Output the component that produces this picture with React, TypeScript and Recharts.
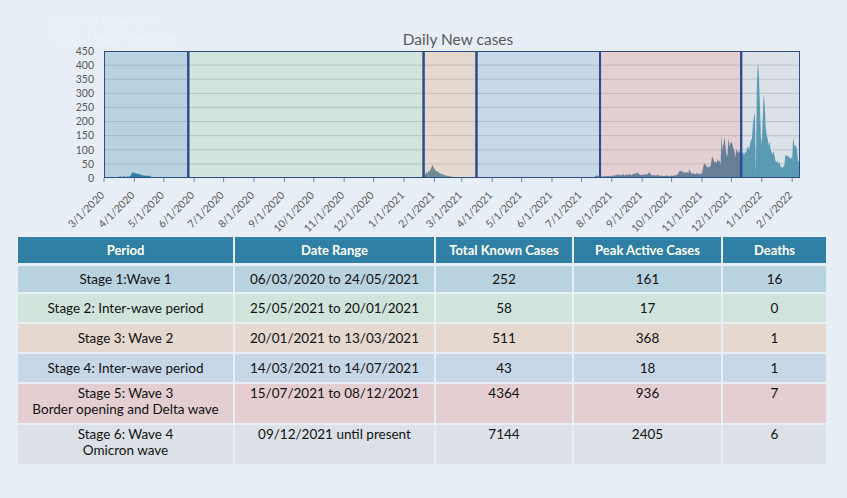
import React from 'react';
import { ComposedChart, Area, XAxis, YAxis, ReferenceArea, ReferenceLine } from 'recharts';

// ---------- chart data ----------
const axisStart = '2020-03-01';
const axisEnd = '2022-02-09';
const monthTicks = [
  '3/1/2020', '4/1/2020', '5/1/2020', '6/1/2020', '7/1/2020', '8/1/2020', '9/1/2020', '10/1/2020',
  '11/1/2020', '12/1/2020', '1/1/2021', '2/1/2021', '3/1/2021', '4/1/2021', '5/1/2021', '6/1/2021',
  '7/1/2021', '8/1/2021', '9/1/2021', '10/1/2021', '11/1/2021', '12/1/2021', '1/1/2022', '2/1/2022',
];
const yTicks = [0, 50, 100, 150, 200, 250, 300, 350, 400, 450];

// stage boxes drawn on the chart (start dates; last box ends at axisEnd)
const stageStarts = ['2020-03-01', '2020-05-26', '2021-01-21', '2021-03-16', '2021-07-20', '2021-12-11'];
const stageFills = ['#b9d2df', '#d2e4dc', '#e5d9cf', '#c8d8e9', '#e4cfd3', '#dbe1e7'];
const stageAreaColors = ['#2d7ea2', '#4a8ca6', '#6f8c94', '#4f8db3', '#687f98', '#5b9ab3'];

// daily new cases (days not covered are 0)
const wave1Start = '2020-03-09';
const wave1Cases = [
  1, 0, 0, 2, 1, 0, 3,
  5, 4, 6, 3, 5, 6, 4, 5,
  3, 6, 4, 5, 8,
  14, 18, 21, 16, 19, 13, 17, 15, 12, 14, 11,
  9, 10, 8, 9, 7, 10, 8, 6, 9,
  4, 3, 4, 2, 3, 2, 3,
  1, 1, 0, 2, 0, 1,
];
const lull1Start = '2020-10-15';
const lull1Cases = [1, 0, 0, 1, 0, 2, 0, 1, 0, 0, 1, 0, 0, 1, 1, 0, 0, 0, 1, 0, 2, 1];
const lull2Start = '2020-12-20';
const lull2Cases = [1, 0, 0, 1, 0, 0, 0, 0, 1];
const wave2Start = '2021-01-21';
const wave2Cases = [
  2, 8, 15, 20, 18, 25, 22, 30, 38, 47, 40, 33, 28, 25, 22, 24, 18, 15, 16, 12,
  14, 10, 9, 11, 7, 6, 8, 5, 4, 5, 3, 2, 3, 1, 2,
];
const wave3Start = '2021-06-20';
const wave3Cases = [
  1, 0, 0, 1, 0, 0, 2, 0, 1, 0, 0, 1, 0, 1, 0, 2, 1, 0, 1,
  1, 2, 1, 3, 2, 4, 6,
  8, 10, 7,
  5, 4,
  5, 6, 4, 7, 6, 5, 8, 6, 7, 5, 9, 6, 8,
  9, 11, 8, 12, 10, 13, 9, 11, 10, 14, 12, 9, 11, 13, 10, 12, 15, 11, 10, 13, 12, 18,
  14, 16, 20, 17, 13, 11, 12, 10, 13, 12, 11, 14, 12, 15, 21, 16,
  12, 10, 9, 11, 8, 10, 9, 12, 8, 9,
  7, 9, 8, 6, 8, 7, 9, 8, 7, 6, 8, 9, 7, 8, 10, 9, 11, 12,
  18, 24, 27, 22, 25,
  20, 18, 22, 19, 21, 17, 30, 24, 19,
  16, 14, 17, 13, 15, 18, 14, 16, 13, 17, 15,
  35, 48, 52, 44,
  40, 36, 42, 38, 45,
  70, 76, 62,
  55, 60, 52, 68, 58, 62, 50,
  151, 98,
  120, 145, 110,
  82, 78,
  143, 110, 125,
  128, 118, 105,
  98, 72, 104,
  95, 88, 100, 85,
];
const wave4Start = '2021-12-11';
const wave4Cases = [
  92, 85, 92, 80, 95, 88,
  105, 112, 98,
  120, 135, 140,
  190, 218,
  230,
  6,
  330, 411, 370,
  270, 150, 120,
  210, 299, 260,
  180, 150, 140, 115, 130,
  100, 92, 85, 95, 80,
  60, 55, 62,
  50, 58,
  42, 38, 36, 40, 45,
  78, 82, 75, 80,
  72, 68, 74, 66,
  145,
  120, 110, 118, 95,
  62, 55,
  40,
];

// ---------- table data ----------
const tableHeaders = ['Period', 'Date Range', 'Total Known Cases', 'Peak Active Cases', 'Deaths'];
const periodLabels = [
  ['Stage 1:Wave 1'],
  ['Stage 2: Inter-wave period'],
  ['Stage 3: Wave 2'],
  ['Stage 4: Inter-wave period'],
  ['Stage 5: Wave 3', 'Border opening and Delta wave'],
  ['Stage 6: Wave 4', 'Omicron wave'],
];
const dateRanges = [
  '06/03/2020 to 24/05/2021',
  '25/05/2021 to 20/01/2021',
  '20/01/2021 to 13/03/2021',
  '14/03/2021 to 14/07/2021',
  '15/07/2021 to 08/12/2021',
  '09/12/2021 until present',
];
const totalKnownCases = [252, 58, 511, 43, 4364, 7144];
const peakActiveCases = [161, 17, 368, 18, 936, 2405];
const deaths = [16, 0, 1, 1, 7, 6];
const rowFills = ['#b9d2df', '#d1e4dc', '#e4d8cf', '#c8d7e8', '#e4ced2', '#dbe1e7'];
const watermarkLines = ['States of Guernsey', 'Public Health Services'];

// ---------- helpers ----------
const DAY_MS = 86400000;
const originUtc = (() => {
  const [y, m, d] = axisStart.split('-').map(Number);
  return Date.UTC(y, m - 1, d);
})();
const isoToDay = (s: string) => {
  const [y, m, d] = s.split('-').map(Number);
  return Math.round((Date.UTC(y, m - 1, d) - originUtc) / DAY_MS);
};
const usToDay = (s: string) => {
  const [m, d, y] = s.split('/').map(Number);
  return Math.round((Date.UTC(y, m - 1, d) - originUtc) / DAY_MS);
};

const lastDay = isoToDay(axisEnd);
const segments: [string, number[]][] = [
  [wave1Start, wave1Cases],
  [lull1Start, lull1Cases],
  [lull2Start, lull2Cases],
  [wave2Start, wave2Cases],
  [wave3Start, wave3Cases],
  [wave4Start, wave4Cases],
];
const daily: number[] = [];
for (let i = 0; i <= lastDay; i++) daily.push(0);
segments.forEach(([start, vals]) => {
  const s0 = isoToDay(start);
  vals.forEach((v, i) => {
    if (s0 + i <= lastDay) daily[s0 + i] = v;
  });
});
const chartData = daily.map((cases, day) => ({ day, cases }));

const tickDays = monthTicks.map(usToDay);
const tickLabelByDay: Record<number, string> = {};
monthTicks.forEach((t, i) => {
  tickLabelByDay[tickDays[i]] = t;
});

const stageStartDays = stageStarts.map(isoToDay);
const stageEndDays = stageStartDays.slice(1).concat([lastDay]);

const FONT = 'Lato, "Open Sans", sans-serif';
const BORDER = '#2e4b8b';

const XTick = (props: any) => {
  const { x, y, payload } = props;
  const ax = x + 1;
  const ay = y + 12;
  return (
    <text
      x={ax}
      y={ay}
      textAnchor="end"
      transform={`rotate(-45 ${ax} ${ay})`}
      fontSize={10.5}
      fill="#595959"
      fontFamily={FONT}
    >
      {tickLabelByDay[payload.value]}
    </text>
  );
};

const colWidths = [215, 199, 136, 147, 103];

export default function App() {
  const stops: React.ReactNode[] = [];
  stageStartDays.forEach((s, i) => {
    const o1 = (s / lastDay) * 100;
    const o2 = (stageEndDays[i] / lastDay) * 100;
    stops.push(<stop key={`a${i}`} offset={`${o1}%`} stopColor={stageAreaColors[i]} />);
    stops.push(<stop key={`b${i}`} offset={`${o2}%`} stopColor={stageAreaColors[i]} />);
  });

  return (
    <div
      style={{
        position: 'absolute',
        left: 0,
        top: 0,
        width: 847,
        height: 498,
        background: '#e8eef5',
        overflow: 'hidden',
        fontFamily: FONT,
      }}
    >
      {/* faint watermark */}
      {watermarkLines.map((t, i) => (
        <div
          key={t}
          style={{
            position: 'absolute',
            left: 49,
            top: 14 + i * 17,
            fontSize: 13,
            lineHeight: '15px',
            color: 'rgba(255,255,255,0.3)',
            whiteSpace: 'nowrap',
          }}
        >
          {t}
        </div>
      ))}

      {/* title */}
      <div
        style={{
          position: 'absolute',
          left: 458,
          top: 30,
          transform: 'translateX(-50%)',
          fontSize: 15.5,
          lineHeight: '18px',
          color: '#595959',
          whiteSpace: 'nowrap',
        }}
      >
        Daily New cases
      </div>

      <div style={{ position: 'absolute', left: 0, top: 0 }}>
        <ComposedChart width={847} height={240} data={chartData} margin={{ top: 51, right: 0, bottom: 0, left: 0 }}>
          <defs>
            <linearGradient id="stageArea" x1="0" y1="0" x2="1" y2="0">
              {stops}
            </linearGradient>
          </defs>
          <XAxis
            dataKey="day"
            type="number"
            domain={[0, lastDay]}
            ticks={tickDays}
            interval={0}
            allowDataOverflow
            axisLine={false}
            tickLine={{ stroke: '#5a8cc4' }}
            tickSize={4}
            height={62}
            tick={<XTick />}
          />
          <YAxis
            domain={[0, 450]}
            ticks={yTicks}
            interval={0}
            width={104}
            axisLine={false}
            tickLine={false}
            tickMargin={4}
            tick={{ fontSize: 10.5, fill: '#595959', fontFamily: FONT }}
          />
          <YAxis
            yAxisId="right"
            orientation="right"
            domain={[0, 450]}
            ticks={yTicks}
            interval={0}
            width={47}
            axisLine={false}
            tick={false}
            tickLine={{ stroke: '#a9b3bd' }}
            tickSize={3}
          />
          {stageStartDays.map((s, i) => (
            <ReferenceArea
              key={`fill${i}`}
              x1={s}
              x2={stageEndDays[i]}
              y1={0}
              y2={450}
              fill={stageFills[i]}
              fillOpacity={1}
              stroke="none"
              ifOverflow="hidden"
              zIndex={50}
            />
          ))}
          {yTicks.slice(1, -1).map((v) => (
            <ReferenceLine key={`g${v}`} y={v} stroke="rgba(70,80,95,0.2)" strokeWidth={1} zIndex={60} />
          ))}
          <Area
            dataKey="cases"
            type="linear"
            stroke="none"
            fill="url(#stageArea)"
            fillOpacity={1}
            isAnimationActive={false}
            dot={false}
            activeDot={false}
            zIndex={100}
          />
          {stageStartDays.map((s, i) => (
            <ReferenceArea
              key={`box${i}`}
              x1={s}
              x2={stageEndDays[i]}
              y1={0}
              y2={450}
              fill="none"
              fillOpacity={0}
              stroke={BORDER}
              strokeWidth={2}
              ifOverflow="hidden"
              zIndex={150}
            />
          ))}
        </ComposedChart>
      </div>

      {/* table */}
      <div
        style={{
          position: 'absolute',
          left: 18,
          top: 237,
          display: 'grid',
          gridTemplateColumns: colWidths.map((w) => `${w}px`).join(' '),
          gridTemplateRows: '26px 27px 28px 28px 28px 39px 39px',
          columnGap: 2,
          rowGap: 2,
        }}
      >
        {tableHeaders.map((h) => (
          <div
            key={h}
            style={{
              background: '#2f80a4',
              color: '#ffffff',
              fontWeight: 700,
              fontSize: 13,
              display: 'flex',
              alignItems: 'center',
              justifyContent: 'center',
              whiteSpace: 'nowrap',
            }}
          >
            {h}
          </div>
        ))}
        {periodLabels.map((lines, r) => {
          const multi = lines.length > 1;
          const cells: React.ReactNode[] = [
            lines.map((l, k) => <div key={k}>{l}</div>),
            dateRanges[r],
            totalKnownCases[r],
            peakActiveCases[r],
            deaths[r],
          ];
          return cells.map((c, ci) => (
            <div
              key={`${r}-${ci}`}
              style={{
                background: rowFills[r],
                color: '#111111',
                fontSize: 13.5,
                lineHeight: '16px',
                display: 'flex',
                flexDirection: 'column',
                alignItems: 'center',
                justifyContent: multi ? 'flex-start' : 'center',
                paddingTop: multi ? 1 : 0,
                boxSizing: 'border-box',
                textAlign: 'center',
                whiteSpace: 'nowrap',
                marginTop: r === 0 ? 1 : 0,
              }}
            >
              {c}
            </div>
          ));
        })}
      </div>
    </div>
  );
}
